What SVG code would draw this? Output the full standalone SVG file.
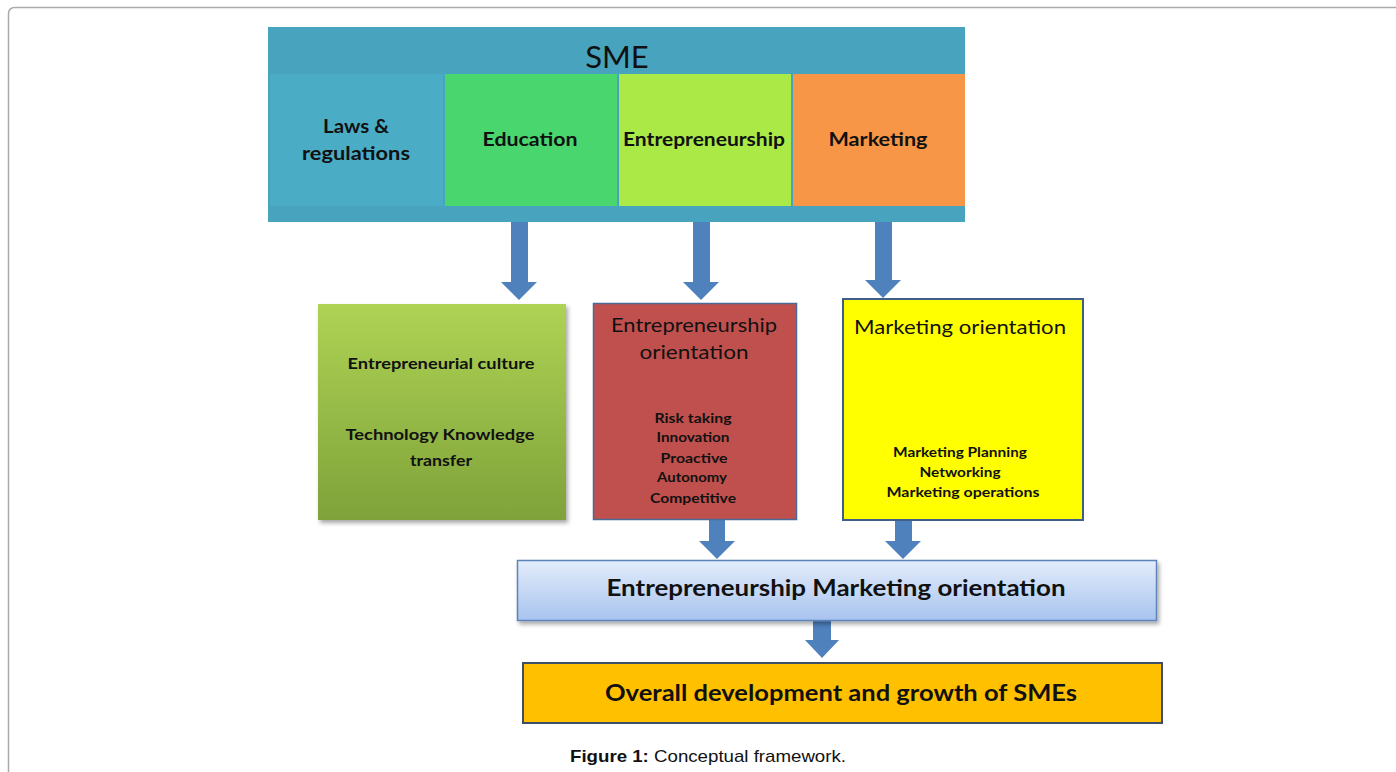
<svg xmlns="http://www.w3.org/2000/svg" width="1396" height="772" viewBox="0 0 1396 772">
<style>
.t{font-family:Lato,"Open Sans","Liberation Sans",sans-serif;fill:#111;text-anchor:middle}
.b{font-weight:bold}
.arrow{fill:#4F81BD}
.cap{font-family:"Liberation Sans",Arial,sans-serif;font-size:17px;fill:#111}
</style>
<defs>
<linearGradient id="gGreen" x1="0" y1="0" x2="0" y2="1">
<stop offset="0" stop-color="#AED354"/>
<stop offset="1" stop-color="#7FA23A"/>
</linearGradient>
<linearGradient id="gBlue" x1="0" y1="0" x2="0" y2="1">
<stop offset="0" stop-color="#E3EDFB"/>
<stop offset="1" stop-color="#A8C3EE"/>
</linearGradient>
<filter id="sh" x="-10%" y="-10%" width="130%" height="130%">
<feDropShadow dx="2" dy="3" stdDeviation="2" flood-color="#000" flood-opacity="0.35"/>
</filter>
</defs>
<rect width="1396" height="772" fill="#fff"/>
<path d="M8.5,800 V14 Q8.5,7.5 15,7.5 H1400" fill="none" stroke="#aaa" stroke-width="1.5"/>

<g id="sme">
<rect x="268" y="27" width="697" height="195" fill="#48A4BE"/>
<text class="t" x="617" y="68" font-size="31" fill="#1a2230">SME</text>
</g>
<g id="laws">
<rect x="270" y="74" width="173" height="132" fill="#4BACC6"/>
<text class="t b" x="356" y="133" font-size="18" textLength="66" lengthAdjust="spacingAndGlyphs">Laws &amp;</text>
<text class="t b" x="356" y="160" font-size="18" textLength="108" lengthAdjust="spacingAndGlyphs">regulations</text>
</g>
<g id="education">
<rect x="445" y="74" width="172" height="132" fill="#4AD66E"/>
<text class="t b" x="530" y="146" font-size="19" textLength="95" lengthAdjust="spacingAndGlyphs">Education</text>
</g>
<g id="entrepreneurship">
<rect x="619" y="74" width="172" height="132" fill="#AAE946"/>
<text class="t b" x="704" y="146" font-size="19" textLength="162" lengthAdjust="spacingAndGlyphs">Entrepreneurship</text>
</g>
<g id="marketing">
<rect x="793" y="74" width="172" height="132" fill="#F79646"/>
<text class="t b" x="878" y="146" font-size="19" textLength="99" lengthAdjust="spacingAndGlyphs">Marketing</text>
</g>

<g id="connectors">
<path class="arrow" d="M511,222 H528 V282 H537 L519,300 L501,282 H511 Z"/>
<path class="arrow" d="M693,222 H710 V282 H719 L701,300 L683,282 H693 Z"/>
<path class="arrow" d="M875,222 H892 V280 H901 L883,298 L865,280 H875 Z"/>
<path class="arrow" d="M709,520 H725 V541 H735 L717,559 L699,541 H709 Z"/>
<path class="arrow" d="M895,520 H912 V541 H921 L903,559 L885,541 H895 Z"/>
<path class="arrow" d="M813,621 H831 V640 H839 L822,658 L805,640 H813 Z"/>
</g>

<g id="culture">
<rect x="318" y="304" width="248" height="216" fill="url(#gGreen)" filter="url(#sh)"/>
<text class="t b" x="441" y="369" font-size="15" textLength="187" lengthAdjust="spacingAndGlyphs">Entrepreneurial  culture</text>
<text class="t b" x="440" y="440" font-size="15" textLength="189" lengthAdjust="spacingAndGlyphs">Technology   Knowledge</text>
<text class="t b" x="441" y="466" font-size="15" textLength="62" lengthAdjust="spacingAndGlyphs">transfer</text>
</g>

<g id="eo">
<rect x="593.5" y="303.5" width="203" height="216" fill="#C0504D" stroke="#4A6A96" stroke-width="1.5"/>
<text class="t" x="694" y="332" font-size="19" textLength="166" lengthAdjust="spacingAndGlyphs">Entrepreneurship</text>
<text class="t" x="694" y="359" font-size="19" textLength="109" lengthAdjust="spacingAndGlyphs">orientation</text>
<text class="t b" x="693" y="423" font-size="13" textLength="77" lengthAdjust="spacingAndGlyphs">Risk taking</text>
<text class="t b" x="693" y="442" font-size="13" textLength="73" lengthAdjust="spacingAndGlyphs">Innovation</text>
<text class="t b" x="694" y="463" font-size="13" textLength="67" lengthAdjust="spacingAndGlyphs">Proactive</text>
<text class="t b" x="692" y="482" font-size="13" textLength="70" lengthAdjust="spacingAndGlyphs">Autonomy</text>
<text class="t b" x="693" y="503" font-size="13" textLength="86" lengthAdjust="spacingAndGlyphs">Competitive</text>
</g>

<g id="mo">
<rect x="843" y="299" width="240" height="221" fill="#FFFF00" stroke="#3F5F8A" stroke-width="2"/>
<text class="t" x="960" y="334" font-size="19" textLength="212" lengthAdjust="spacingAndGlyphs">Marketing orientation</text>
<text class="t b" x="960" y="457" font-size="13" textLength="134" lengthAdjust="spacingAndGlyphs">Marketing Planning</text>
<text class="t b" x="960" y="477" font-size="13" textLength="81" lengthAdjust="spacingAndGlyphs">Networking</text>
<text class="t b" x="963" y="497" font-size="13" textLength="153" lengthAdjust="spacingAndGlyphs">Marketing  operations</text>
</g>

<g id="emo">
<rect x="517.5" y="560.5" width="639" height="60" fill="url(#gBlue)" stroke="#5B84BA" stroke-width="1.5" filter="url(#sh)"/>
<text class="t b" x="836" y="596" font-size="22.5" textLength="459" lengthAdjust="spacingAndGlyphs">Entrepreneurship Marketing orientation</text>
</g>

<g id="growth">
<rect x="523" y="663" width="639" height="60" fill="#FFC000" stroke="#3E4E66" stroke-width="2"/>
<text class="t b" x="841" y="701" font-size="23" textLength="472" lengthAdjust="spacingAndGlyphs">Overall development and growth of SMEs</text>
</g>

<text class="cap" x="570" y="762" textLength="276" lengthAdjust="spacingAndGlyphs"><tspan font-weight="bold">Figure 1:</tspan> Conceptual framework.</text>
</svg>
